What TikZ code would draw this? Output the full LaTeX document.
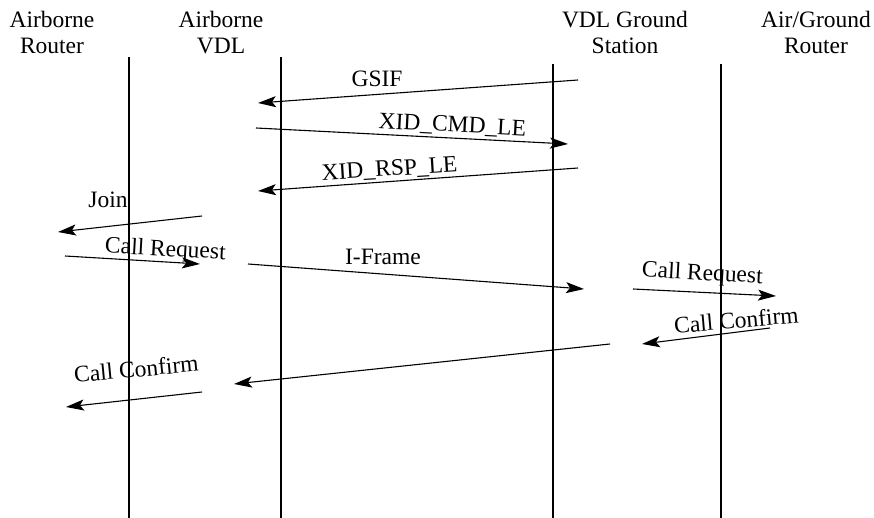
\documentclass[tikz,border=0pt]{standalone}
\usepackage{fontspec}
\setmainfont{Liberation Serif}
\usetikzlibrary{arrows.meta}
\begin{document}
\begin{tikzpicture}[x=1pt,y=-1pt,
  lifeline/.style={line width=2pt},
  msg/.style={line width=1.1pt,-{Stealth[length=18pt,width=11pt,inset=4pt]}},
  hdr/.style={align=center,inner sep=0pt,font=\fontsize{23.5}{26.5}\selectfont},
  lbl/.style={inner sep=0pt,font=\fontsize{23.5}{26.5}\selectfont},
]
\useasboundingbox (0,0) rectangle (874,518);
% headers
\node[hdr,anchor=base] (h1) at (52,54) {Airborne\\Router};
\node[hdr,anchor=base] (h2) at (221,54) {Airborne\\VDL};
\node[hdr,anchor=base] (h3) at (625,54) {VDL Ground\\Station};
\node[hdr,anchor=base] (h4) at (816,54) {Air/Ground\\Router};
% lifelines
\coordinate (t1) at (129,57); \coordinate (b1) at (129,518);
\coordinate (t2) at (281,57); \coordinate (b2) at (281,518);
\coordinate (t3) at (553,64); \coordinate (b3) at (553,518);
\coordinate (t4) at (721,64); \coordinate (b4) at (721,518);
\draw[lifeline] (t1) -- (b1);
\draw[lifeline] (t2) -- (b2);
\draw[lifeline] (t3) -- (b3);
\draw[lifeline] (t4) -- (b4);
% message end points
\coordinate (m1s) at (578,80);  \coordinate (m1e) at (258,103);
\coordinate (m2s) at (256,128); \coordinate (m2e) at (568,144);
\coordinate (m3s) at (578,168); \coordinate (m3e) at (258,191);
\coordinate (m4s) at (202,216); \coordinate (m4e) at (58,232);
\coordinate (m5s) at (65,256);  \coordinate (m5e) at (200,264);
\coordinate (m6s) at (248,264); \coordinate (m6e) at (584,289);
\coordinate (m7s) at (633,289); \coordinate (m7e) at (776,296);
\coordinate (m8s) at (770,328); \coordinate (m8e) at (642,344);
\coordinate (m9s) at (610,344); \coordinate (m9e) at (234,384);
\coordinate (m10s) at (202,392); \coordinate (m10e) at (66,407);
\foreach \i in {1,...,10} {\draw[msg] (m\i s) -- (m\i e);}
% labels
\node[lbl,anchor=base] (l1) at (377,87) {GSIF};
\node[lbl,anchor=base,rotate=-3] (l2) at (452,132) {XID\_CMD\_LE};
\node[lbl,anchor=base,rotate=3.5] (l3) at (390,176) {XID\_RSP\_LE};
\node[lbl,anchor=base] (l4) at (108,208) {Join};
\node[lbl,anchor=base,rotate=-3.3] (l5) at (165,256) {Call Request};
\node[lbl,anchor=base] (l6) at (383,265) {I-Frame};
\node[lbl,anchor=base,rotate=-3.3] (l7) at (702,280) {Call Request};
\node[lbl,anchor=base,rotate=5] (l8) at (737,328) {Call Confirm};
\node[lbl,anchor=base,rotate=5.5] (l9) at (137,377) {Call Confirm};
\end{tikzpicture}
\end{document}
